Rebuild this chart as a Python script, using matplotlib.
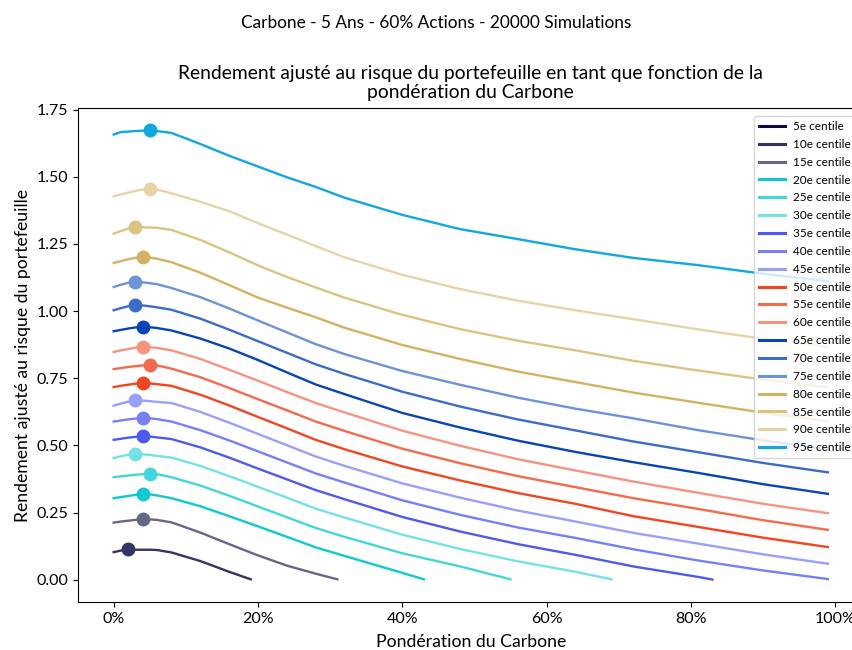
import numpy as np
import matplotlib
matplotlib.use("Agg")
import matplotlib.pyplot as plt
from matplotlib.ticker import PercentFormatter

plt.rcParams['font.family'] = ['Lato', 'DejaVu Sans']

# pondération du carbone (%) where the values were read
ponderation = [0, 1, 2, 3, 4, 5, 6, 8, 12, 16, 20, 24, 28, 32, 40, 48, 56, 64, 72, 81, 90, 99]

# rendement ajusté au risque, one list per centile
c5 = []  # entirely negative, nothing drawn
c10 = [0.103, 0.109, 0.113, 0.112, 0.112, 0.112, 0.111, 0.102, 0.070, 0.030]
c15 = [0.213, 0.217, 0.220, 0.223, 0.226, 0.225, 0.223, 0.214, 0.176, 0.133, 0.091, 0.053, 0.023]
c20 = [0.304, 0.308, 0.312, 0.316, 0.319, 0.318, 0.314, 0.304, 0.274, 0.237, 0.199, 0.160, 0.121, 0.089, 0.026]
c25 = [0.382, 0.385, 0.388, 0.391, 0.393, 0.395, 0.393, 0.382, 0.351, 0.313, 0.273, 0.233, 0.193, 0.160, 0.099, 0.050]
c30 = [0.453, 0.460, 0.465, 0.468, 0.467, 0.465, 0.461, 0.455, 0.424, 0.386, 0.346, 0.306, 0.265, 0.232, 0.168, 0.115, 0.069, 0.030]
c35 = [0.521, 0.525, 0.529, 0.532, 0.534, 0.533, 0.530, 0.524, 0.493, 0.455, 0.414, 0.374, 0.334, 0.300, 0.234, 0.180, 0.133, 0.093, 0.050, 0.011]
c40 = [0.589, 0.593, 0.597, 0.600, 0.602, 0.601, 0.598, 0.589, 0.557, 0.519, 0.478, 0.437, 0.396, 0.362, 0.296, 0.242, 0.195, 0.156, 0.114, 0.072, 0.035, 0.003]
c45 = [0.648, 0.656, 0.663, 0.668, 0.667, 0.665, 0.662, 0.658, 0.625, 0.585, 0.543, 0.501, 0.459, 0.424, 0.359, 0.306, 0.258, 0.217, 0.175, 0.135, 0.095, 0.060]
c50 = [0.717, 0.722, 0.726, 0.730, 0.732, 0.731, 0.728, 0.722, 0.689, 0.649, 0.606, 0.564, 0.521, 0.486, 0.422, 0.370, 0.323, 0.283, 0.237, 0.197, 0.157, 0.122]
c55 = [0.784, 0.788, 0.792, 0.795, 0.798, 0.800, 0.798, 0.786, 0.754, 0.714, 0.672, 0.631, 0.589, 0.554, 0.488, 0.434, 0.386, 0.345, 0.304, 0.264, 0.222, 0.186]
c60 = [0.848, 0.854, 0.859, 0.864, 0.867, 0.866, 0.863, 0.854, 0.822, 0.782, 0.741, 0.699, 0.658, 0.623, 0.555, 0.499, 0.449, 0.407, 0.366, 0.324, 0.283, 0.248]
c65 = [0.925, 0.930, 0.935, 0.939, 0.941, 0.940, 0.937, 0.928, 0.898, 0.861, 0.818, 0.772, 0.727, 0.691, 0.621, 0.567, 0.518, 0.476, 0.438, 0.398, 0.356, 0.320]
c70 = [1.003, 1.011, 1.018, 1.022, 1.021, 1.018, 1.014, 1.005, 0.972, 0.931, 0.888, 0.845, 0.802, 0.766, 0.700, 0.645, 0.597, 0.556, 0.515, 0.475, 0.435, 0.400]
c75 = [1.090, 1.098, 1.105, 1.108, 1.107, 1.104, 1.100, 1.086, 1.052, 1.010, 0.965, 0.921, 0.877, 0.840, 0.777, 0.726, 0.678, 0.637, 0.601, 0.557, 0.519, 0.486]
c80 = [1.179, 1.186, 1.193, 1.198, 1.201, 1.199, 1.195, 1.182, 1.143, 1.097, 1.050, 1.013, 0.977, 0.938, 0.874, 0.822, 0.775, 0.736, 0.697, 0.659, 0.622, 0.590]
c85 = [1.288, 1.298, 1.307, 1.313, 1.312, 1.311, 1.310, 1.302, 1.265, 1.219, 1.170, 1.127, 1.088, 1.050, 0.986, 0.933, 0.890, 0.854, 0.815, 0.779, 0.745, 0.717]
c90 = [1.427, 1.434, 1.441, 1.447, 1.452, 1.455, 1.452, 1.438, 1.407, 1.372, 1.327, 1.285, 1.242, 1.200, 1.135, 1.082, 1.039, 1.003, 0.970, 0.932, 0.897, 0.867]
c95 = [1.657, 1.666, 1.668, 1.670, 1.671, 1.672, 1.670, 1.663, 1.622, 1.578, 1.538, 1.498, 1.462, 1.422, 1.358, 1.305, 1.268, 1.230, 1.198, 1.171, 1.139, 1.111]

# where each curve reaches zero (last drawn point)
fin = [None, 19, 31, 43, 55, 69, 83, 99, 99, 99, 99, 99, 99, 99, 99, 99, 99, 99, 99]
fin_val = [None, 0.002, 0.002, 0.002, 0.002, 0.002, 0.001, 0.003, 0.060, 0.122, 0.186, 0.248, 0.320, 0.400, 0.486, 0.590, 0.717, 0.867, 1.111]

centiles = [5, 10, 15, 20, 25, 30, 35, 40, 45, 50, 55, 60, 65, 70, 75, 80, 85, 90, 95]
series = [c5, c10, c15, c20, c25, c30, c35, c40, c45, c50, c55, c60, c65, c70, c75, c80, c85, c90, c95]
colors = ['#0a0a40', '#333366', '#666688', '#0ec8d2', '#41d6dc', '#72e2e6',
          '#4d5af2', '#7580f8', '#97a0fa', '#f14620', '#f56a4a', '#f7937e',
          '#0645b8', '#3a6cc9', '#6a93d9', '#d4b262', '#dcc382', '#e6d4a6', '#10a8e0']

fig = plt.figure(figsize=(8.53, 6.5), dpi=100)
ax = fig.add_axes([0.0914, 0.0738, 0.921, 0.760])

for cent, vals, col, xe, ye in zip(centiles, series, colors, fin, fin_val):
    if len(vals) == 0:
        ax.plot([], [], color=col, lw=1.7, label=f'{cent}e centile')
        continue
    xs = ponderation[:len(vals)]
    if xs[-1] != xe:
        xs = xs + [xe]
        ys = vals + [ye]
    else:
        ys = vals
    ax.plot(xs, ys, color=col, lw=1.7, label=f'{cent}e centile')
    i = int(np.argmax(ys))
    ax.plot(xs[i], ys[i], 'o', color=col, ms=9)

ax.xaxis.set_major_formatter(PercentFormatter(xmax=100, decimals=0))
ax.set_xticks([0, 20, 40, 60, 80, 100])
ax.tick_params(labelsize=11.5)
ax.set_xlabel('Pondération du Carbone', fontsize=12.7, labelpad=6)
ax.set_ylabel('Rendement ajusté au risque du portefeuille', fontsize=12.7)
ax.set_title('Rendement ajusté au risque du portefeuille en tant que fonction de la\npondération du Carbone',
             fontsize=13.9, pad=7)
fig.suptitle('Carbone - 5 Ans - 60% Actions - 20000 Simulations', x=0.5117, y=0.977, fontsize=12.4)

leg = ax.legend(loc='upper right', fontsize=8.5, handlelength=2.2, labelspacing=0.58,
                borderaxespad=0.7, handletextpad=0.7)
for h in leg.get_lines():
    h.set_linewidth(2.2)

fig.savefig('out.png', dpi=100)
